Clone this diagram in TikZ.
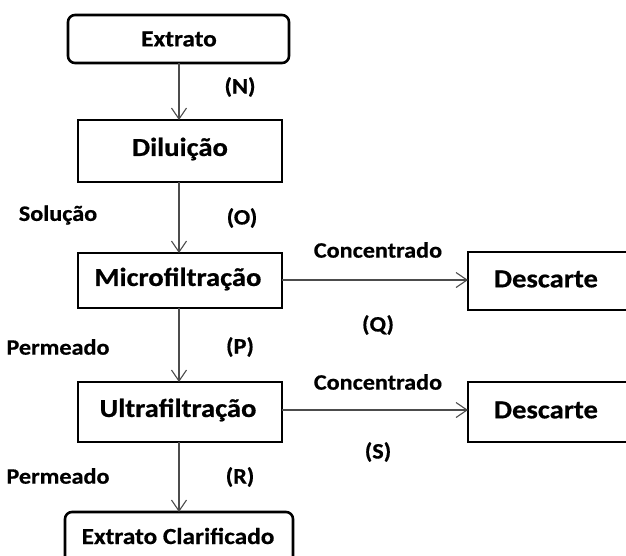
\documentclass[tikz,border=0pt]{standalone}
\usepackage{fontspec}
\setmainfont{Carlito}
\newfontfamily\diagfont[FakeStretch=1.1,FakeBold=0.6]{Carlito}
\usetikzlibrary{arrows.meta}
\begin{document}
\begin{tikzpicture}[x=1pt,y=-1pt,
  stage/.style={draw=black,line width=2.6pt,fill=white},
  endbox/.style={stage,rounded corners=7pt},
  title/.style={font=\diagfont\bfseries\fontsize{26}{28}\selectfont,inner sep=0pt},
  small/.style={font=\diagfont\bfseries\fontsize{23}{25}\selectfont,inner sep=0pt},
  lbl/.style={font=\diagfont\bfseries\fontsize{22}{24}\selectfont,inner sep=0pt},
  flow/.style={draw=black!70,line width=1.1pt,-{Straight Barb[length=11pt,width=15pt,line width=1.1pt]}}]
\useasboundingbox (0,0) rectangle (626,555);
\clip (0,0) rectangle (626,555);
\fill[white] (0,0) rectangle (626,555);

% process boxes
\draw[endbox] (68,15) rectangle (289,63);
\draw[stage] (78,120) rectangle (282,182);
\draw[stage] (78,253) rectangle (282,308);
\draw[stage] (78,382) rectangle (282,442);
\draw[endbox] (65,512) rectangle (293,580);
\draw[stage] (468,252) rectangle (640,310);
\draw[stage] (468,382) rectangle (640,442);

% anchors on the box edges
\coordinate (extB) at (179,63);
\coordinate (dilT) at (179,120);
\coordinate (dilB) at (179,182);
\coordinate (micT) at (179,253);
\coordinate (micB) at (179,308);
\coordinate (micR) at (282,280);
\coordinate (ultT) at (179,382);
\coordinate (ultB) at (179,442);
\coordinate (ultR) at (282,410);
\coordinate (eclT) at (179,512);
\coordinate (d1L) at (468,280);
\coordinate (d2L) at (468,410);

% box texts
\node[small] (ext) at (179,39) {Extrato};
\node[title] (dil) at (180,149) {Diluição};
\node[title] (mic) at (178,279) {Microfiltração};
\node[title] (ult) at (178,410) {Ultrafiltração};
\node[small] (ecl) at (178,536) {Extrato Clarificado};
\node[title] (d1) at (546,279) {Descarte};
\node[title] (d2) at (546,410) {Descarte};

% flows
\draw[flow] (extB) -- (dilT);
\draw[flow] (dilB) -- (micT);
\draw[flow] (micB) -- (ultT);
\draw[flow] (ultB) -- (eclT);
\draw[flow] (micR) -- (d1L);
\draw[flow] (ultR) -- (d2L);

% stream labels
\node[lbl] (n) at (240,87) {(N)};
\node[lbl] (sol) at (58,215) {Solução};
\node[lbl] (o) at (242,218) {(O)};
\node[lbl] (c1) at (378,250) {Concentrado};
\node[lbl] (q) at (378,325) {(Q)};
\node[lbl] (p1) at (58,347) {Permeado};
\node[lbl] (p) at (240,347) {(P)};
\node[lbl] (c2) at (378,382) {Concentrado};
\node[lbl] (s) at (378,452) {(S)};
\node[lbl] (p2) at (58,476) {Permeado};
\node[lbl] (r) at (240,477) {(R)};
\end{tikzpicture}
\end{document}
